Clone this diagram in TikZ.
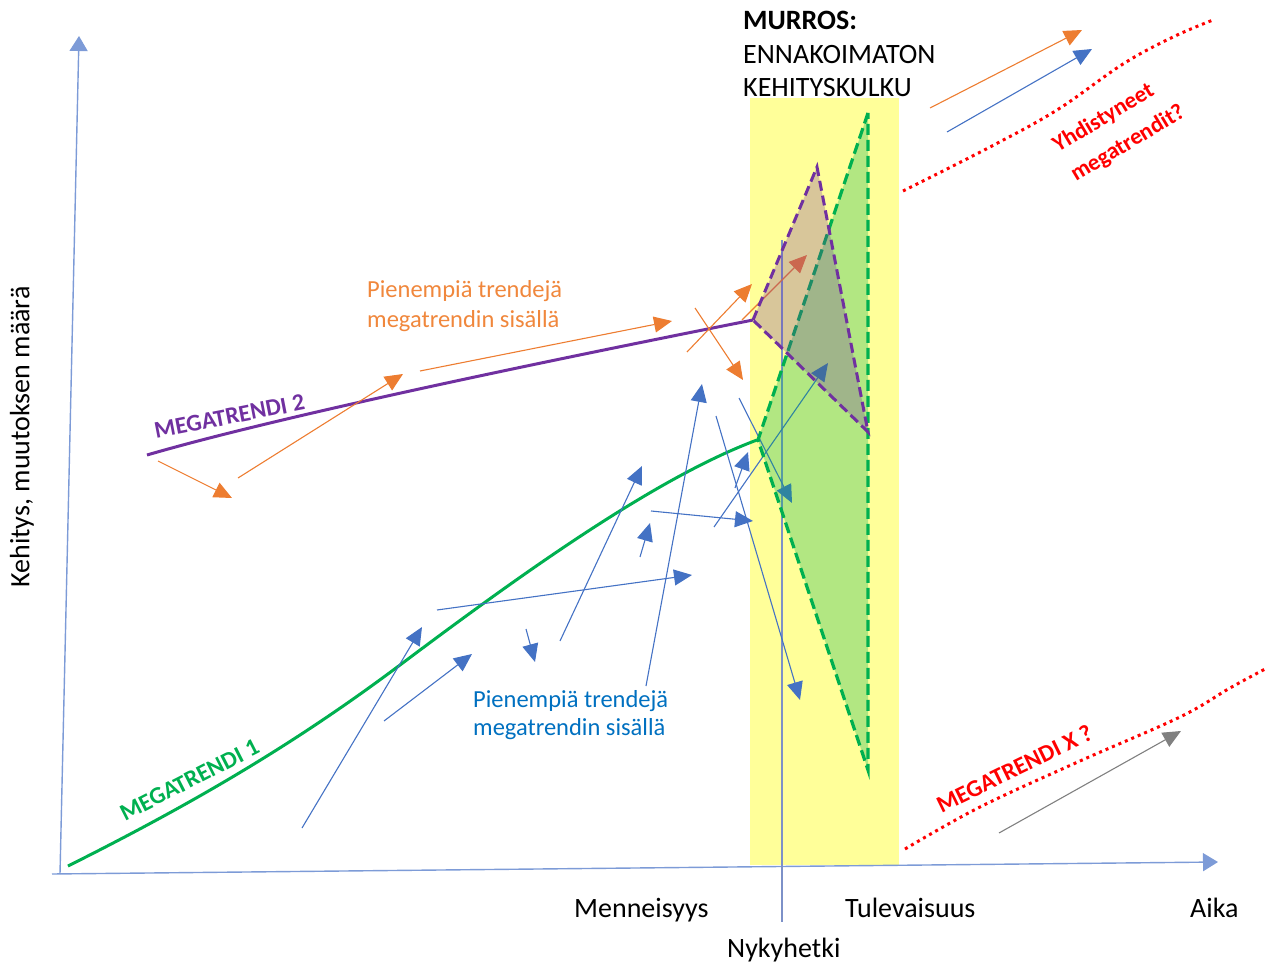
\documentclass[tikz,border=0pt]{standalone}
\usepackage{fontspec}
\setmainfont{Carlito}
\usetikzlibrary{arrows.meta}
\definecolor{axisblue}{RGB}{125,155,215}
\definecolor{trendblue}{RGB}{68,114,196}
\definecolor{trendorange}{RGB}{237,125,49}
\definecolor{mgreen}{RGB}{0,176,80}
\definecolor{mpurple}{RGB}{112,48,160}
\definecolor{hiyellow}{RGB}{255,255,153}
\definecolor{txtblue}{RGB}{0,112,192}
\definecolor{nowline}{RGB}{125,145,200}
\definecolor{txtorange}{RGB}{240,135,60}

\begin{document}
\begin{tikzpicture}[x=1pt,y=-1pt,
  axis/.style={draw=axisblue, line width=1.4pt, -{Triangle[length=15pt,width=18pt]}},
  smallarrow/.style={line width=1.1pt, -{Triangle[length=18pt,width=16pt]}},
  bluearrow/.style={smallarrow, draw=trendblue},
  orangearrow/.style={smallarrow, draw=trendorange},
  grayarrow/.style={smallarrow, draw=gray},
  lab/.style={inner sep=0pt, font=\fontsize{28}{32}\selectfont},
  small/.style={inner sep=0pt, font=\fontsize{24.5}{29}\selectfont},
  trendlabel/.style={inner sep=0pt, font=\fontsize{24}{28}\selectfont\bfseries},
  reddots/.style={draw=red, line width=3pt, dash pattern=on 3pt off 4pt},
]
\useasboundingbox (0,0) rectangle (1270,965);

% time window of the disruption
\fill[hiyellow] (750,98) rectangle (899,865);

% axes
\coordinate (O) at (60,874);
\coordinate (ytop) at (79,36);
\coordinate (xstart) at (52,874);
\coordinate (xend) at (1218,862);
\draw[axis] (O) -- (ytop);
\draw[axis] (xstart) -- (xend);

% present moment
\coordinate (nowtop) at (782,240);
\coordinate (nowbot) at (782,922);
\draw[nowline, line width=1.4pt] (nowtop) -- (nowbot);

% megatrend 1
\coordinate (m1a) at (68,866);
\coordinate (m1b) at (400,665);
\coordinate (m1c) at (757,440);
\draw[mgreen, line width=3pt] (m1a) .. controls (200,800) and (300,740) .. (m1b)
  .. controls (520,575) and (655,478) .. (m1c);
% megatrend 2
\coordinate (m2a) at (147,455);
\coordinate (m2b) at (753,320);
\draw[mpurple, line width=3pt] (m2a) .. controls (250,425) and (450,380) .. (m2b);

% smaller trends inside megatrend 1
\coordinate (b1s) at (302,828);  \coordinate (b1e) at (422,627);
\coordinate (b2s) at (384,721);  \coordinate (b2e) at (472,654);
\coordinate (b3s) at (526,629);  \coordinate (b3e) at (535,662);
\coordinate (b4s) at (437,610);  \coordinate (b4e) at (692,575);
\coordinate (b5s) at (560,641);  \coordinate (b5e) at (642,466);
\coordinate (b6s) at (640,557);  \coordinate (b6e) at (650,523);
\coordinate (b7s) at (646,686);  \coordinate (b7e) at (702,384);
\coordinate (b8s) at (651,511);  \coordinate (b8e) at (753,521);
\coordinate (b9s) at (714,527);  \coordinate (b9e) at (828,363);
\coordinate (b10s) at (716,416); \coordinate (b10e) at (800,700);
\coordinate (b11s) at (739,398); \coordinate (b11e) at (792,503);
\coordinate (b12s) at (735,488); \coordinate (b12e) at (748,452);
\foreach \i in {1,...,12} \draw[bluearrow] (b\i s) -- (b\i e);

% smaller trends inside megatrend 2
\coordinate (o1s) at (158,461);  \coordinate (o1e) at (232,498);
\coordinate (o2s) at (238,478);  \coordinate (o2e) at (403,374);
\coordinate (o3s) at (420,371);  \coordinate (o3e) at (672,321);
\coordinate (o4s) at (687,352);  \coordinate (o4e) at (752,284);
\coordinate (o5s) at (695,308);  \coordinate (o5e) at (743,380);
\coordinate (o6s) at (742,320);  \coordinate (o6e) at (807,255);
\foreach \i in {1,...,6} \draw[orangearrow] (o\i s) -- (o\i e);

% disruption cones
\coordinate (gtop) at (868,113);
\coordinate (gleft) at (758,440);
\coordinate (gbot) at (868,770);
\filldraw[fill=mgreen, fill opacity=0.3, draw=mgreen, line width=3.2pt,
  dash pattern=on 11pt off 5pt] (gtop) -- (gleft) -- (gbot) -- cycle;
\coordinate (pleft) at (753,320);
\coordinate (ptop) at (817,167);
\coordinate (pbot) at (868,432);
\filldraw[fill=mpurple, fill opacity=0.27, draw=mpurple, line width=3pt,
  dash pattern=on 10pt off 5pt] (pleft) -- (ptop) -- (pbot) -- cycle;

% possible future trends
\draw[reddots] plot[smooth, tension=0.6] coordinates
  {(903,191) (990,147) (1057,110) (1123,64) (1173,37) (1213,20)};
\draw[reddots] plot[smooth, tension=0.6] coordinates
  {(905,849) (980,807) (1080,761) (1180,717) (1230,688) (1267,668)};

\coordinate (u1s) at (930,108);  \coordinate (u1e) at (1082,30);
\coordinate (u2s) at (947,132);  \coordinate (u2e) at (1092,49);
\coordinate (g1s) at (999,833);  \coordinate (g1e) at (1181,731);
\draw[orangearrow] (u1s) -- (u1e);
\draw[bluearrow] (u2s) -- (u2e);
\draw[grayarrow] (g1s) -- (g1e);

% labels
\node[lab, rotate=90] (ylab) at (22,437) {Kehitys, muutoksen määrä};
\node[lab, anchor=base west] (past) at (574,917) {Menneisyys};
\node[lab, anchor=base west] (future) at (845,917) {Tulevaisuus};
\node[lab, anchor=base west] (time) at (1190,917) {Aika};
\node[lab, anchor=base west] (now) at (727,957) {Nykyhetki};

\node[lab, anchor=base west, font=\fontsize{28}{32}\selectfont\bfseries] (t1) at (743,30) {MURROS:};
\node[lab, anchor=base west] (t2) at (743,64) {ENNAKOIMATON};
\node[lab, anchor=base west] (t3) at (743,97) {KEHITYSKULKU};

\node[small, anchor=base west, text=txtorange] (or1) at (367,298) {Pienempiä trendejä};
\node[small, anchor=base west, text=txtorange] (or2) at (367,328) {megatrendin sisällä};
\node[small, anchor=base west, text=txtblue] (bl1) at (473,707) {Pienempiä trendejä};
\node[small, anchor=base west, text=txtblue] (bl2) at (473,735) {megatrendin sisällä};

\node[trendlabel, text=mpurple, anchor=base, rotate=11] (m2) at (231,424) {MEGATRENDI 2};
\node[trendlabel, text=mgreen, anchor=base, rotate=27] (m1) at (193,787) {MEGATRENDI 1};
\node[trendlabel, text=red, anchor=base, rotate=26] (mx) at (1018,776) {MEGATRENDI X ?};
\node[trendlabel, text=red, anchor=base west, rotate=31, font=\fontsize{23}{27}\selectfont\bfseries] (y1) at (1058,153) {Yhdistyneet};
\node[trendlabel, text=red, anchor=base west, rotate=31, font=\fontsize{23}{27}\selectfont\bfseries] (y2) at (1076,182) {megatrendit?};
\end{tikzpicture}
\end{document}
